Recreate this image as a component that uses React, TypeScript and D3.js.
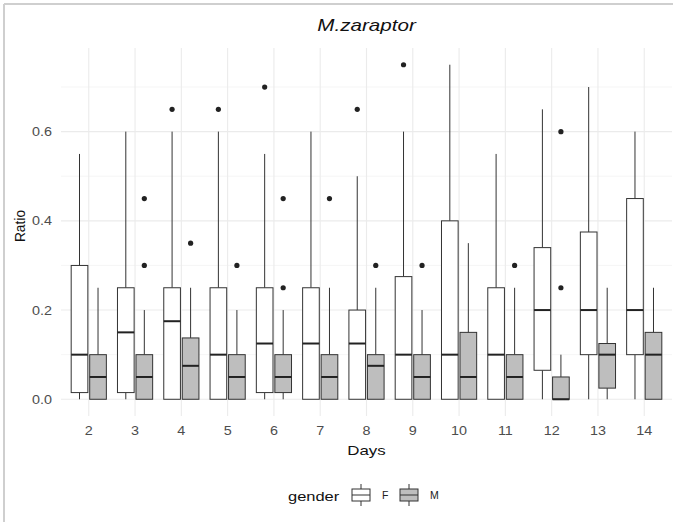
import React from 'react'
import * as d3 from 'd3'

// box stats per day: [lower whisker, q1, median, q3, upper whisker]
const days = ['2', '3', '4', '5', '6', '7', '8', '9', '10', '11', '12', '13', '14']
const genders = ['F', 'M']

const femaleStats = [
  [0, 0.015, 0.1, 0.3, 0.55],
  [0, 0.015, 0.15, 0.25, 0.6],
  [0, 0, 0.175, 0.25, 0.6],
  [0, 0, 0.1, 0.25, 0.6],
  [0, 0.015, 0.125, 0.25, 0.55],
  [0, 0, 0.125, 0.25, 0.6],
  [0, 0, 0.125, 0.2, 0.5],
  [0, 0, 0.1, 0.275, 0.6],
  [0, 0, 0.1, 0.4, 0.75],
  [0, 0, 0.1, 0.25, 0.55],
  [0, 0.065, 0.2, 0.34, 0.65],
  [0, 0.1, 0.2, 0.375, 0.7],
  [0, 0.1, 0.2, 0.45, 0.6],
]
const femaleOutliers = [[], [], [0.65], [0.65], [0.7], [], [0.65], [0.75], [], [], [], [], []]

const maleStats = [
  [0, 0, 0.05, 0.1, 0.25],
  [0, 0, 0.05, 0.1, 0.2],
  [0, 0, 0.075, 0.1375, 0.25],
  [0, 0, 0.05, 0.1, 0.2],
  [0, 0.015, 0.05, 0.1, 0.2],
  [0, 0, 0.05, 0.1, 0.25],
  [0, 0, 0.075, 0.1, 0.25],
  [0, 0, 0.05, 0.1, 0.2],
  [0, 0, 0.05, 0.15, 0.35],
  [0, 0, 0.05, 0.1, 0.25],
  [0, 0, 0, 0.05, 0.1],
  [0, 0.025, 0.1, 0.125, 0.25],
  [0, 0, 0.1, 0.15, 0.25],
]
const maleOutliers = [[], [0.3, 0.45], [0.35], [0.3], [0.25, 0.45], [0.45], [0.3], [0.3], [], [0.3], [0.25, 0.6], [], []]

const yTicks = [0, 0.2, 0.4, 0.6]
const yMinor = [0.1, 0.3, 0.5, 0.7]

const fills = { F: '#ffffff', M: '#bebebe' }
const font = '"Liberation Sans", Arial, sans-serif'

// the source picture is a bit wider than tall, so text gets a horizontal stretch
function Txt({ x, y, sx = 1.2, children, ...rest }: any) {
  return (
    <text transform={`translate(${x},${y}) scale(${sx},1)`} {...rest}>{children}</text>
  )
}

export default function App() {
  const width = 673
  const height = 522
  const panel = { l: 61, r: 672, t: 48, b: 416 }

  const x = d3.scalePoint().domain(days).range([panel.l, panel.r]).padding(0.6)
  const step = x.step()
  const y = d3.scaleLinear().domain([-0.0375, 0.7875]).range([panel.b, panel.t])

  const boxW = step * 0.36
  const offset = { F: -step * 0.2, M: step * 0.2 }

  const series = [
    { g: 'F', stats: femaleStats, outs: femaleOutliers },
    { g: 'M', stats: maleStats, outs: maleOutliers },
  ]

  return (
    <svg width={width} height={height} style={{ position: 'absolute', left: 0, top: 0, background: '#fff' }}
      fontFamily={font}>
      <line x1={4} x2={width} y1={4} y2={4} stroke="#cfcfcf" strokeWidth={2} />
      <line x1={4} x2={4} y1={4} y2={height} stroke="#cfcfcf" strokeWidth={2} />

      {/* grid */}
      {yMinor.map(v => (
        <line key={'mn' + v} x1={panel.l} x2={panel.r} y1={y(v)} y2={y(v)} stroke="#f2f2f2" strokeWidth={0.7} />
      ))}
      {yTicks.map(v => (
        <line key={'mj' + v} x1={panel.l} x2={panel.r} y1={y(v)} y2={y(v)} stroke="#ebebeb" strokeWidth={1.1} />
      ))}
      {days.map(d => (
        <line key={'vx' + d} x1={x(d)} x2={x(d)} y1={panel.t} y2={panel.b} stroke="#ebebeb" strokeWidth={1.1} />
      ))}

      {/* boxes */}
      {series.map(s => days.map((d, i) => {
        const [lo, q1, med, q3, hi] = s.stats[i]
        const cx = (x(d) as number) + offset[s.g]
        return (
          <g key={s.g + d}>
            <line x1={cx} x2={cx} y1={y(q3)} y2={y(hi)} stroke="#333" strokeWidth={1} />
            <line x1={cx} x2={cx} y1={y(q1)} y2={y(lo)} stroke="#333" strokeWidth={1} />
            <rect x={cx - boxW / 2} y={y(q3)} width={boxW} height={y(q1) - y(q3)}
              fill={fills[s.g]} stroke="#333" strokeWidth={1} />
            <line x1={cx - boxW / 2} x2={cx + boxW / 2} y1={y(med)} y2={y(med)} stroke="#222" strokeWidth={2} />
            {s.outs[i].map(v => (
              <circle key={v} cx={cx} cy={y(v)} r={2.6} fill="#222" />
            ))}
          </g>
        )
      }))}

      {/* y axis */}
      {yTicks.map(v => (
        <Txt key={'yt' + v} x={panel.l - 9} y={y(v) + 4.5} sx={1.15} textAnchor="end" fontSize={12.5} fill="#4d4d4d">
          {d3.format('.1f')(v)}
        </Txt>
      ))}
      <text transform={`translate(25,226) rotate(-90)`} textAnchor="middle" fontSize={13.8} fill="#111">Ratio</text>

      {/* x axis */}
      {days.map(d => (
        <Txt key={'xt' + d} x={x(d)} y={435} sx={1.15} textAnchor="middle" fontSize={12.5} fill="#4d4d4d">{d}</Txt>
      ))}
      <Txt x={(panel.l + panel.r) / 2} y={454.5} sx={1.25} textAnchor="middle" fontSize={13.5} fill="#111">Days</Txt>

      {/* title */}
      <Txt x={(panel.l + panel.r) / 2} y={31} sx={1.25} textAnchor="middle" fontSize={16.5} fontStyle="italic" fill="#111">
        M.zaraptor
      </Txt>

      {/* legend */}
      <Txt x={288} y={501} sx={1.22} fontSize={13.5} fill="#111">gender</Txt>
      {genders.map((g, i) => {
        const kx = 352 + i * 48
        const kc = kx + 9
        return (
          <g key={'lg' + g}>
            <line x1={kc} x2={kc} y1={484} y2={506} stroke="#333" strokeWidth={1} />
            <rect x={kx} y={489} width={18} height={12} fill={fills[g]} stroke="#333" strokeWidth={1} />
            <line x1={kx} x2={kx + 18} y1={495} y2={495} stroke="#333" strokeWidth={1} />
            <text x={kx + 30} y={499} fontSize={10.5} fill="#222">{g}</text>
          </g>
        )
      })}
    </svg>
  )
}
